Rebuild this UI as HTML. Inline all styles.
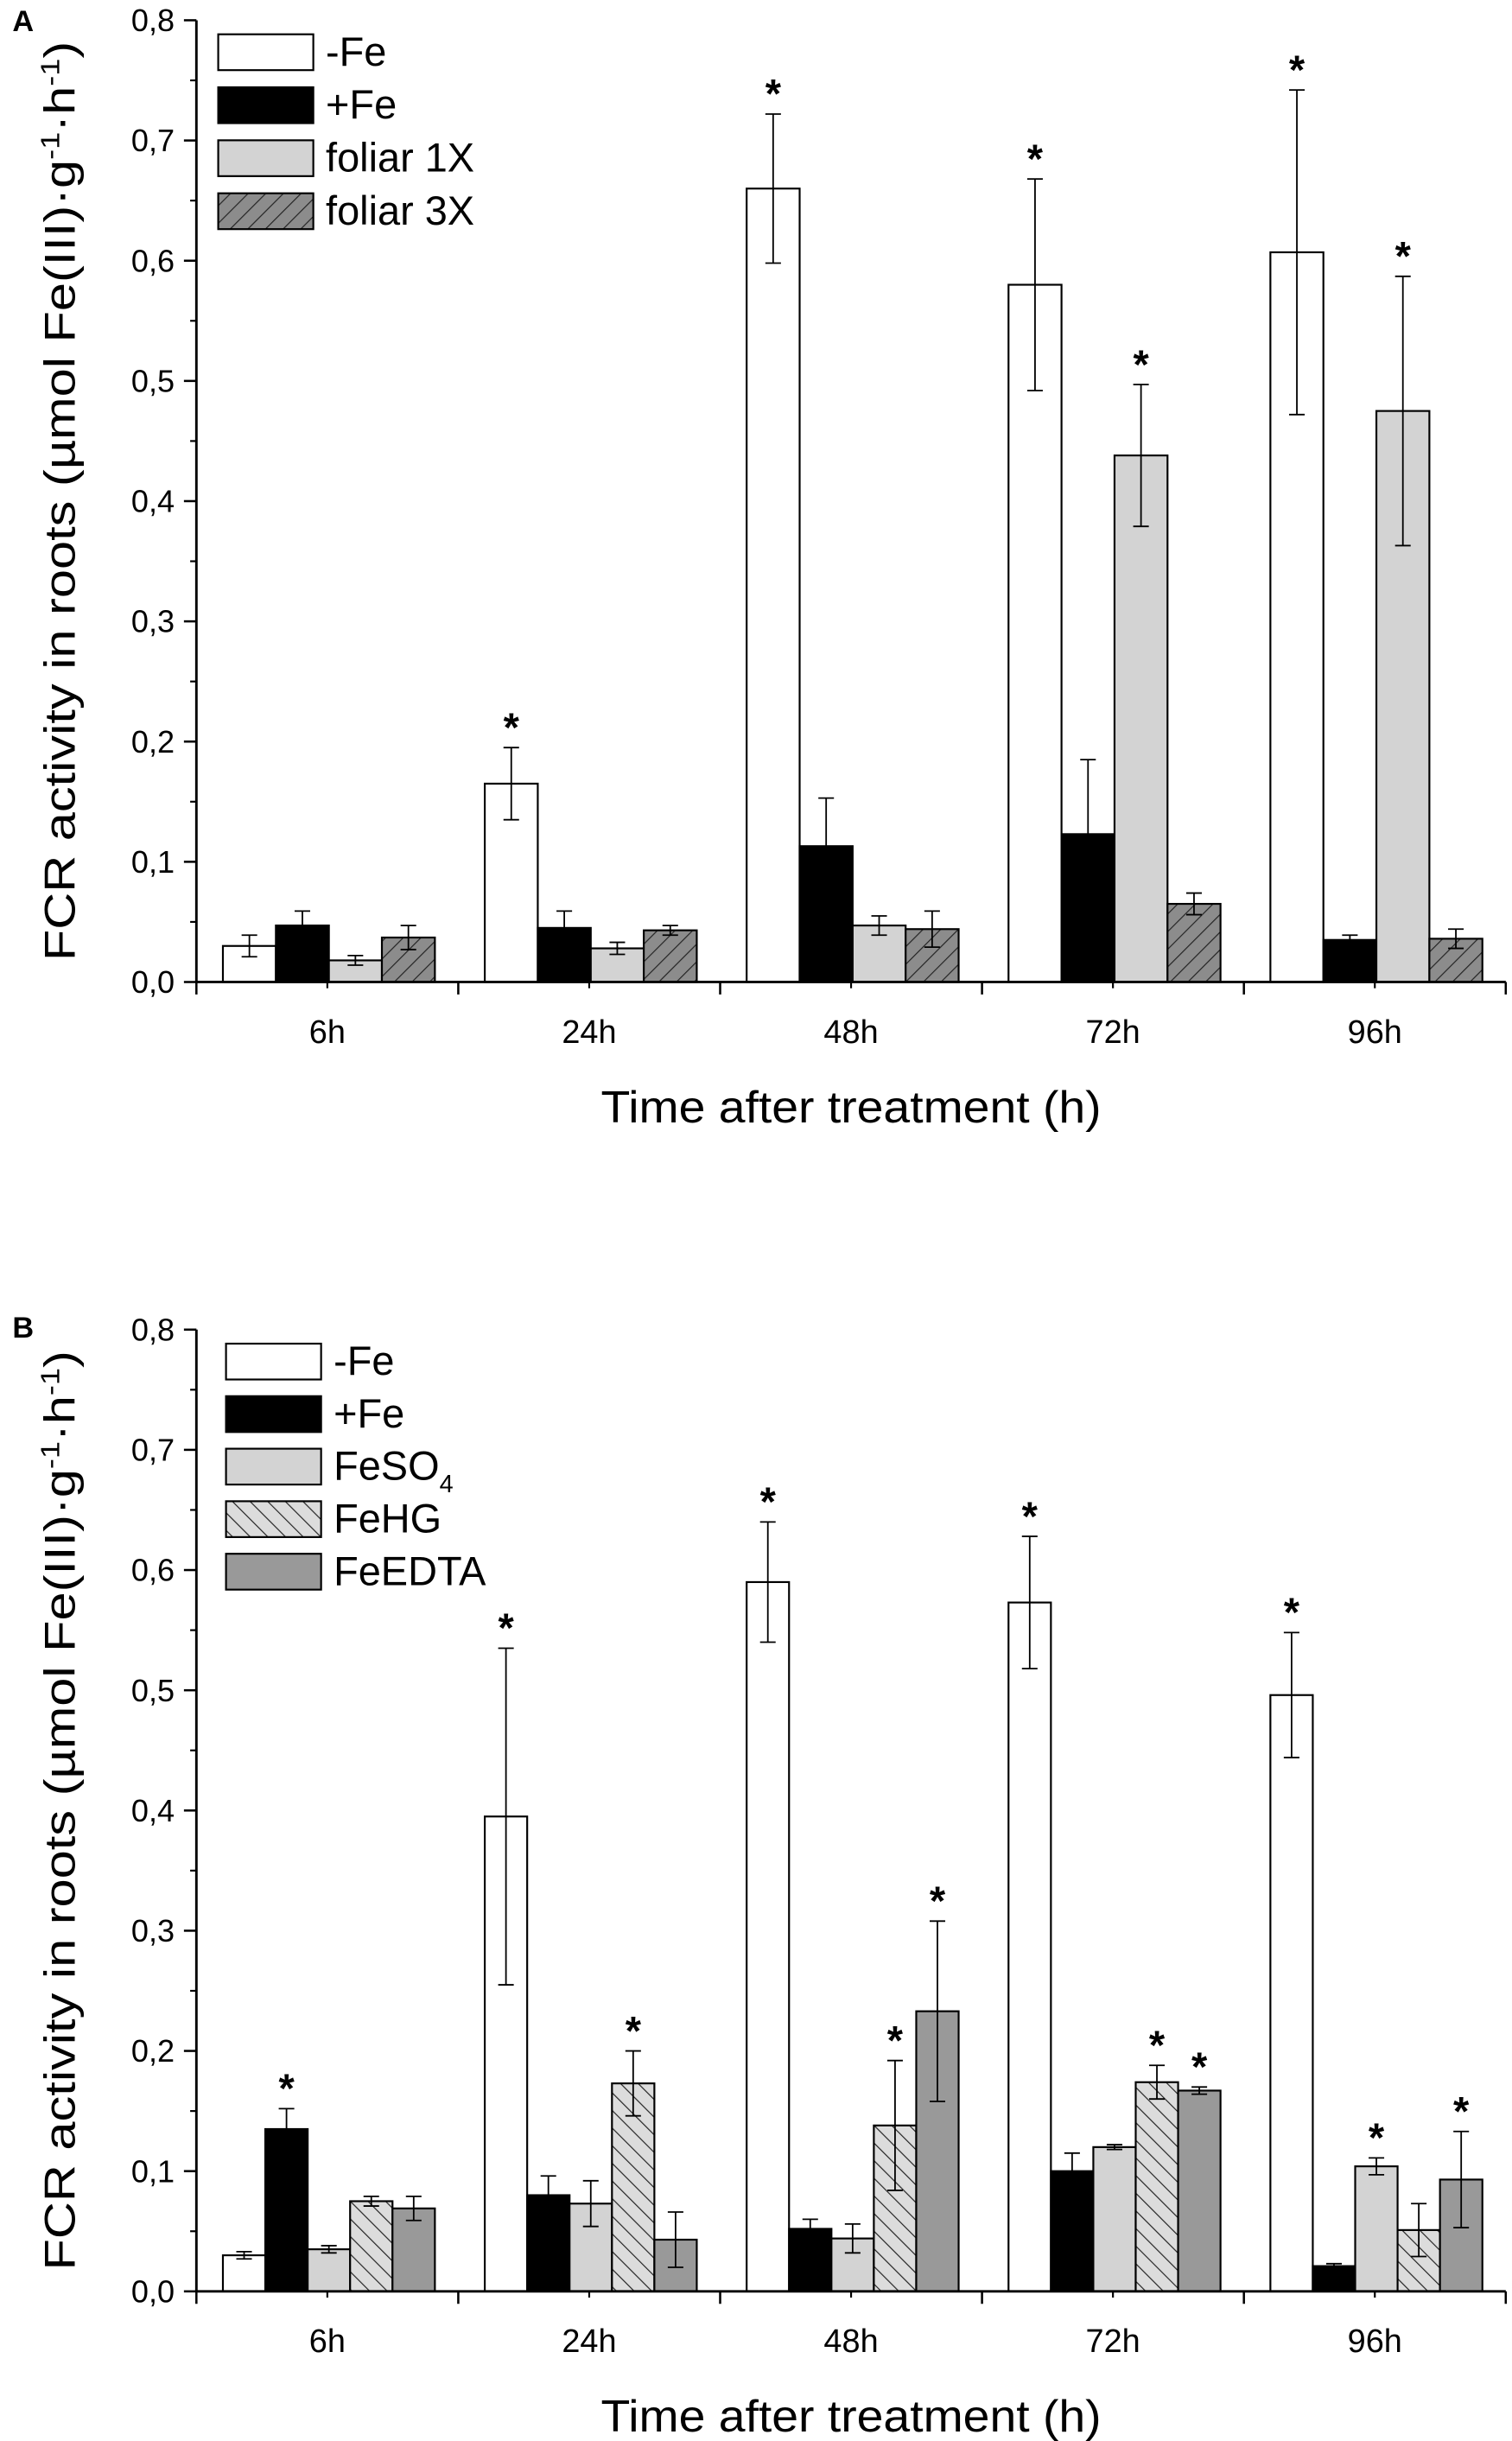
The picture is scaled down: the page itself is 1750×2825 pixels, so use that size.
<!DOCTYPE html>
<html><head><meta charset="utf-8"><style>html,body{margin:0;padding:0;background:#fff}svg{display:block}</style></head>
<body>
<svg id="fig" xmlns="http://www.w3.org/2000/svg" width="1750" height="2825" viewBox="0 0 970 1566" preserveAspectRatio="none" font-family="Liberation Sans, Arial, sans-serif">
<defs>
<pattern id="hatchA" patternUnits="userSpaceOnUse" width="8" height="8" patternTransform="rotate(45)"><rect width="8" height="8" fill="#8c8c8c"/><line x1="0" y1="0" x2="0" y2="8" stroke="#222" stroke-width="1.3"/></pattern>
<pattern id="hatchB" patternUnits="userSpaceOnUse" width="8" height="8" patternTransform="rotate(-45)"><rect width="8" height="8" fill="#dcdcdc"/><line x1="0" y1="0" x2="0" y2="8" stroke="#222" stroke-width="1.3"/></pattern>
</defs>
</svg>
<script>
const categories = ["6h","24h","48h","72h","96h"];
const yTicks = ["0,0","0,1","0,2","0,3","0,4","0,5","0,6","0,7","0,8"];
const aNames = ["-Fe","+Fe","foliar 1X","foliar 3X"];
const aMinusFe = [0.03,0.165,0.66,0.58,0.607];
const aMinusFeErr = [0.009,0.03,0.062,0.088,0.135];
const aPlusFe = [0.047,0.045,0.113,0.123,0.035];
const aPlusFeErr = [0.012,0.014,0.04,0.062,0.004];
const aFoliar1X = [0.018,0.028,0.047,0.438,0.475];
const aFoliar1XErr = [0.004,0.005,0.008,0.059,0.112];
const aFoliar3X = [0.037,0.043,0.044,0.065,0.036];
const aFoliar3XErr = [0.01,0.004,0.015,0.009,0.008];
const aStars = [[0,1,1,1,1],[0,0,0,0,0],[0,0,0,1,1],[0,0,0,0,0]];
const bNames = ["-Fe","+Fe","FeSO4","FeHG","FeEDTA"];
const bMinusFe = [0.03,0.395,0.59,0.573,0.496];
const bMinusFeErr = [0.003,0.14,0.05,0.055,0.052];
const bPlusFe = [0.135,0.08,0.052,0.1,0.021];
const bPlusFeErr = [0.017,0.016,0.008,0.015,0.002];
const bFeSO4 = [0.035,0.073,0.044,0.12,0.104];
const bFeSO4Err = [0.003,0.019,0.012,0.002,0.007];
const bFeHG = [0.075,0.173,0.138,0.174,0.051];
const bFeHGErr = [0.004,0.027,0.054,0.014,0.022];
const bFeEDTA = [0.069,0.043,0.233,0.167,0.093];
const bFeEDTAErr = [0.01,0.023,0.075,0.003,0.04];
const bStars = [[0,1,1,1,1],[1,0,0,0,0],[0,0,0,0,1],[0,1,1,1,0],[0,0,1,1,1]];

const NS="http://www.w3.org/2000/svg";
const svg=document.getElementById('fig');
function mk(tag,attrs,parent){const e=document.createElementNS(NS,tag);for(const k in attrs)e.setAttribute(k,attrs[k]);(parent||svg).appendChild(e);return e;}

function panel(cfg){
  const g=mk('g',{});
  
  
  const x0=126,x1=966,y0=cfg.y0,yTop=cfg.yTop;
  const ys=v=>y0-(v/0.8)*(y0-yTop);
  const gw=(x1-x0)/categories.length;
  const n=cfg.series.length;
  const bw=136/n;
  const xs=(ci,si)=>x0+ci*gw+17+si*bw;
  cfg.series.forEach((s,si)=>{
    s.vals.forEach((v,ci)=>{
      const r=mk('rect',{x:xs(ci,si),y:ys(v),width:bw,height:y0-ys(v),fill:s.fill,stroke:'#000','stroke-width':1.2},g);
      
      
      const cx=xs(ci,si)+bw/2, top=ys(v+s.err[ci]), bot=ys(v-s.err[ci]);
      const e=mk('path',{d:`M${cx},${top}V${bot}M${cx-5},${top}H${cx+5}M${cx-5},${bot}H${cx+5}`,stroke:'#000','stroke-width':1,fill:'none'},g);
      
      
      if(cfg.stars[si][ci]){
        const t=mk('text',{x:cx,y:top-4,'text-anchor':'middle','font-size':26,'font-weight':'bold'},g);
        t.textContent='*';
        
        
      }
    });
  });
  const ax=mk('path',{d:`M${x0},${yTop}V${y0}H${x1}`,stroke:'#000','stroke-width':1.6,fill:'none'},g);
  
  
  yTicks.forEach((lab,i)=>{
    const y=ys(i*0.1);
    mk('line',{x1:x0-8,x2:x0,y1:y,y2:y,stroke:'#000','stroke-width':1.4},g);
    if(i<8){const ym=ys(i*0.1+0.05);mk('line',{x1:x0-4,x2:x0,y1:ym,y2:ym,stroke:'#000','stroke-width':1.2},g);}
    const t=mk('text',{x:x0-14,y:y+7,'text-anchor':'end','font-size':20},g);
    t.textContent=lab;
    
    
  });
  categories.forEach((c,ci)=>{
    mk('line',{x1:x0+ci*gw,x2:x0+ci*gw,y1:y0,y2:y0+8,stroke:'#000','stroke-width':1.4},g);
    const cx=x0+ci*gw+gw/2;
    mk('line',{x1:cx,x2:cx,y1:y0,y2:y0+4,stroke:'#000','stroke-width':1.2},g);
    const t=mk('text',{x:cx,y:y0+39,'text-anchor':'middle','font-size':21},g);
    t.textContent=c;
    
    
  });
  mk('line',{x1:x1,x2:x1,y1:y0,y2:y0+8,stroke:'#000','stroke-width':1.4},g);
  const xt=mk('text',{x:546,y:y0+90,'text-anchor':'middle','font-size':29,textLength:321,lengthAdjust:'spacingAndGlyphs'},g);
  xt.textContent='Time after treatment (h)';
  
  
  const yt=mk('text',{x:0,y:0,'text-anchor':'middle','font-size':28,textLength:590,lengthAdjust:'spacingAndGlyphs',transform:`translate(48,${(y0+yTop)/2}) rotate(-90)`},g);
  yt.innerHTML='FCR activity in roots (µmol Fe(III)·g<tspan dy="-10" font-size="17">-1</tspan><tspan dy="10">·h</tspan><tspan dy="-10" font-size="17">-1</tspan><tspan dy="10">)</tspan>';
  
  
  const pl=mk('text',{x:8,y:cfg.labelY,'font-size':19,'font-weight':'bold'},g);
  pl.textContent=cfg.label;
  
  
  cfg.series.forEach((s,si)=>{
    const ly=cfg.legY+si*cfg.legStep;
    const le=mk('g',{},g);
    
    
    mk('rect',{x:cfg.legX,y:ly,width:61,height:23,fill:s.fill,stroke:'#000','stroke-width':1.2},le);
    const t=mk('text',{x:cfg.legX+69,y:ly+20,'font-size':26},le);
    t.innerHTML=s.label;
  });
}

panel({name:'panel-a',label:'A',labelY:20,y0:630,yTop:13,legX:140,legY:22,legStep:34,stars:aStars,series:[
  {key:'minus-fe',label:aNames[0],vals:aMinusFe,err:aMinusFeErr,fill:'#fff'},
  {key:'plus-fe',label:aNames[1],vals:aPlusFe,err:aPlusFeErr,fill:'#000'},
  {key:'foliar-1x',label:aNames[2],vals:aFoliar1X,err:aFoliar1XErr,fill:'#d3d3d3'},
  {key:'foliar-3x',label:aNames[3],vals:aFoliar3X,err:aFoliar3XErr,fill:'url(#hatchA)'}]});
panel({name:'panel-b',label:'B',labelY:858,y0:1470,yTop:853,legX:145,legY:862,legStep:33.7,stars:bStars,series:[
  {key:'minus-fe',label:bNames[0],vals:bMinusFe,err:bMinusFeErr,fill:'#fff'},
  {key:'plus-fe',label:bNames[1],vals:bPlusFe,err:bPlusFeErr,fill:'#000'},
  {key:'feso4',label:'FeSO<tspan dy="8" font-size="16">4</tspan>',vals:bFeSO4,err:bFeSO4Err,fill:'#d3d3d3'},
  {key:'fehg',label:bNames[3],vals:bFeHG,err:bFeHGErr,fill:'url(#hatchB)'},
  {key:'feedta',label:bNames[4],vals:bFeEDTA,err:bFeEDTAErr,fill:'#999'}]});
</script>
</body></html>
